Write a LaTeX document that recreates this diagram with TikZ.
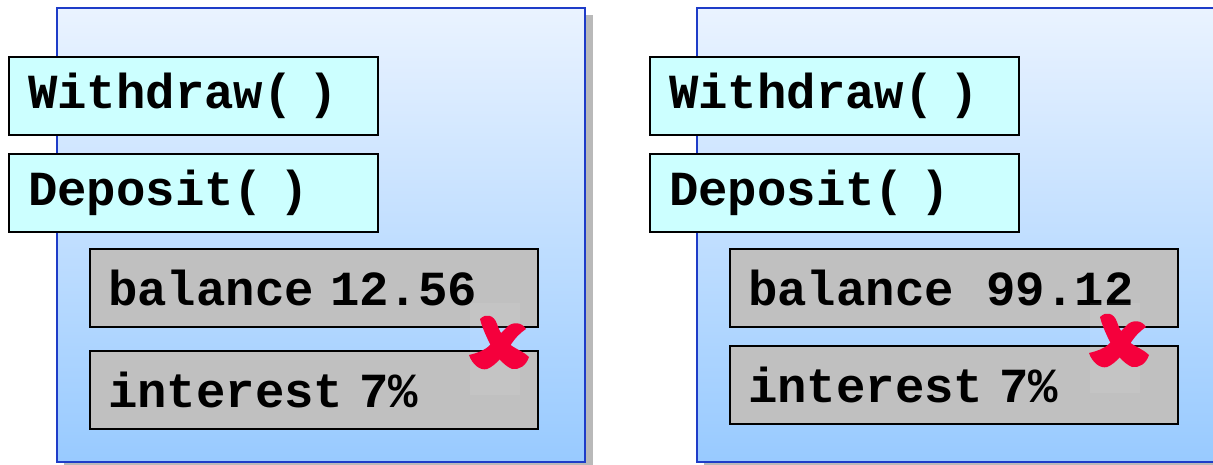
\documentclass[tikz,border=0pt]{standalone}
\usepackage{fontspec}
\setmonofont{Liberation Mono}
\begin{document}
\begin{tikzpicture}[x=1pt,y=-1pt,
  panel/.style={draw={rgb,255:red,30;green,60;blue,200},line width=1.6pt,
    top color={rgb,255:red,234;green,243;blue,255},
    bottom color={rgb,255:red,152;green,202;blue,255}},
  shadowbox/.style={fill={rgb,255:red,185;green,185;blue,185}},
  method/.style={draw=black,line width=2pt,fill={rgb,255:red,204;green,255;blue,255},
    rectangle,anchor=north west,minimum height=78pt,text width=331pt,inner xsep=19pt,
    align=left,font=\ttfamily\bfseries\fontsize{49}{52}\selectfont},
  field/.style={draw=black,line width=2pt,fill={rgb,255:red,192;green,192;blue,192},
    rectangle,anchor=north west,minimum height=78pt,text width=412pt,inner xsep=18pt,
    align=left,font=\ttfamily\bfseries\fontsize{49}{52}\selectfont},
  haze/.style={fill=white,fill opacity=0.07}
]
\definecolor{crossred}{RGB}{245,0,60}
\useasboundingbox (0,0) rectangle (1213,465);
\clip (0,0) rectangle (1213,465);

% red brush-stroke cross, centred at the current shift
\newcommand{\strokecross}{%
  \fill[crossred] (-19,-26) .. controls (-13,-32) and (-5,-30) .. (-2,-21)
    .. controls (1,-12) and (7,-3) .. (13,1)
    .. controls (19,5) and (25,7) .. (30,12)
    .. controls (27,21) and (20,25) .. (13,24)
    .. controls (4,20) and (-3,11) .. (-8,1)
    .. controls (-13,-9) and (-17,-18) .. cycle;
  \fill[crossred] (27,-16) .. controls (23,-23) and (13,-24) .. (7,-17)
    .. controls (1,-11) and (-4,-5) .. (-9,0)
    .. controls (-15,6) and (-22,8) .. (-30,10)
    .. controls (-27,19) and (-19,26) .. (-12,24)
    .. controls (-2,20) and (5,9) .. (11,1)
    .. controls (16,-7) and (21,-12) .. cycle;}

% left object
\fill[shadowbox] (64,15) rectangle (593,470);
\draw[panel] (57,8) rectangle (585,462);
\node[method] (w1) at (8,56) {Withdraw( )};
\node[method] (d1) at (8,153) {Deposit( )};
\node[field] (b1) at (89,248) {balance 12.56};
\node[field] (i1) at (89,350) {interest 7\%};
\fill[haze] (470,303) rectangle (520,395);
\begin{scope}[shift={(499,345)}]\strokecross\end{scope}

% right object
\fill[shadowbox] (704,15) rectangle (1230,470);
\draw[panel] (697,8) rectangle (1225,462);
\node[method] (w2) at (649,56) {Withdraw( )};
\node[method] (d2) at (649,153) {Deposit( )};
\node[field] (b2) at (729,248) {balance\ \ 99.12};
\node[field] (i2) at (729,345) {interest 7\%};
\fill[haze] (1090,303) rectangle (1140,393);
\begin{scope}[shift={(1119,343)}]\strokecross\end{scope}
\end{tikzpicture}
\end{document}
